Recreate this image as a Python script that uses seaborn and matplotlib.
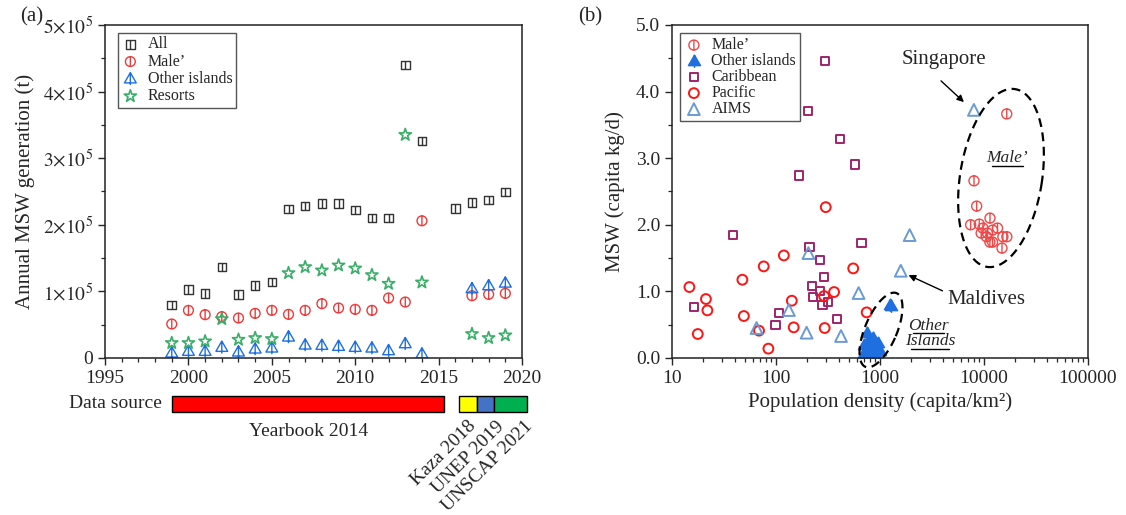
"""Maldives MSW: (a) annual generation by sector, (b) per-capita MSW vs population density."""
import numpy as np
import matplotlib
matplotlib.use("Agg")
import matplotlib.pyplot as plt
from matplotlib.path import Path
from matplotlib.ticker import FuncFormatter, MultipleLocator, LogLocator, NullFormatter
import seaborn as sns

# ── (a) annual MSW generation (t) ───────────────────────────
years_all = [1999, 2000, 2001, 2002, 2003, 2004, 2005, 2006, 2007, 2008, 2009,
             2010, 2011, 2012, 2013, 2014, 2016, 2017, 2018, 2019]
msw_all = [79500, 102500, 96500, 136500, 95500, 109000, 114000, 224000, 228000, 232000,
           232000, 222500, 210500, 210500, 440000, 325500, 224500, 233500, 237500, 249500]

years_sub = [1999, 2000, 2001, 2002, 2003, 2004, 2005, 2006, 2007, 2008, 2009,
             2010, 2011, 2012, 2013, 2014, 2017, 2018, 2019]
msw_male = [51000, 71500, 65000, 62000, 60000, 67000, 71500, 65500, 71500, 81500, 75000,
            73000, 71500, 90000, 84000, 206000, 93500, 95500, 97000]
msw_other = [7500, 10000, 10000, 16000, 9000, 13500, 15000, 31500, 19500, 19000, 17500,
             16000, 15000, 11000, 21500, 6000, 104000, 108500, 112500]
msw_resorts = [22500, 22500, 25000, 58500, 27500, 30000, 28500, 127500, 136500, 131500, 139000,
               134500, 124500, 111500, 335000, 113500, 36000, 30000, 34000]

# data source timeline
src_labels = ["Yearbook 2014", "Kaza 2018", "UNEP 2019", "UNSCAP 2021"]
src_start = [1999.0, 2016.2, 2017.3, 2018.3]
src_end = [2015.3, 2017.3, 2018.3, 2020.3]
src_colors = ["#ff0000", "#ffff00", "#4472c4", "#00b050"]

# ── (b) MSW (capita kg/d) vs population density ─────────────
male_x = [8020, 8510, 16560, 7450, 9010, 11430, 9770, 9400, 10800, 12100, 13500,
          11400, 12100, 15200, 16600, 14900, 10600]
male_y = [2.66, 2.28, 3.665, 2.0, 2.01, 2.10, 1.95, 1.875, 1.875, 1.92, 1.95,
          1.74, 1.74, 1.82, 1.82, 1.65, 1.82]
other_x = [745, 700, 730, 760, 800, 830, 870, 900, 950, 990, 680, 780, 850, 920,
           1260, 1290, 720, 880]
other_y = [0.38, 0.20, 0.12, 0.25, 0.15, 0.08, 0.20, 0.12, 0.22, 0.10, 0.05, 0.05,
           0.30, 0.05, 0.80, 0.78, 0.02, 0.02]
carib_x = [16.2, 38.9, 99, 107, 166, 205, 210, 221, 228, 263, 264, 280, 292, 299,
           314, 389, 412, 581, 665]
carib_y = [0.765, 1.85, 0.5, 0.675, 2.74, 3.71, 1.665, 1.085, 0.91, 1.475, 1.0, 0.795,
           1.21, 4.46, 0.835, 0.585, 3.285, 2.905, 1.725]
pac_x = [14.7, 17.7, 21.2, 21.9, 47.5, 49.1, 68.7, 76.2, 84.5, 119, 142, 148, 290,
         294, 301, 362, 553, 745]
pac_y = [1.065, 0.36, 0.885, 0.715, 1.175, 0.63, 0.41, 1.375, 0.14, 1.54, 0.86, 0.46,
         0.93, 0.45, 2.265, 0.99, 1.345, 0.685]
aims_x = [65, 133, 205, 197, 422, 623, 1585, 1930, 8000]
aims_y = [0.45, 0.72, 1.575, 0.38, 0.33, 0.975, 1.31, 1.845, 3.725]

sns.set_style("ticks")
plt.rcParams["font.family"] = ["Liberation Serif", "DejaVu Serif"]
plt.rcParams["mathtext.fontset"] = "stix"
plt.rcParams["axes.edgecolor"] = "#222222"
plt.rcParams["axes.linewidth"] = 1.1


def stem_marker(base, y0=-1.0, y1=1.0):
    stem = Path([(0, y0), (0, y1)], [Path.MOVETO, Path.LINETO])
    return Path.make_compound_path(base, stem)


SQ = stem_marker(Path([(-1, -1), (1, -1), (1, 1), (-1, 1), (-1, -1)],
                      [Path.MOVETO, Path.LINETO, Path.LINETO, Path.LINETO, Path.CLOSEPOLY]))
CIR = stem_marker(Path.unit_circle())
TRI_PATH = Path([(0, 1), (-0.95, -0.65), (0.95, -0.65), (0, 1)],
                [Path.MOVETO, Path.LINETO, Path.LINETO, Path.CLOSEPOLY])
TRI = stem_marker(TRI_PATH, -1.0, 1.0)


def open_pts(ax, x, y, marker, color, size, label, lw=1.0):
    sns.scatterplot(x=x, y=y, ax=ax, marker=marker, s=size, color=color,
                    facecolors="none", edgecolor=color, linewidth=lw, label=label)


def style_ticks(ax):
    ax.tick_params(which="major", direction="out", length=5, width=1.0,
                   labelsize=14, top=False, right=False)
    ax.tick_params(which="minor", direction="out", length=3, width=0.9,
                   top=False, right=False)
    for s in ax.spines.values():
        s.set_visible(True)


fig = plt.figure(figsize=(11.26, 5.15), dpi=100)
ax1 = fig.add_axes([0.0933, 0.3049, 0.3703, 0.6466])
ax2 = fig.add_axes([0.5968, 0.3049, 0.3694, 0.6466])
ax3 = fig.add_axes([0.0933, 0.2000, 0.3703, 0.0311])

# ── (a) ─────────────────────────────────────────────────────
open_pts(ax1, years_all, msw_all, SQ, "#333333", 38, "All")
open_pts(ax1, years_sub, msw_male, CIR, "#ee3a3a", 50, "Male’")
open_pts(ax1, years_sub, msw_other, TRI, "#1f6fe0", 80, "Other islands")
open_pts(ax1, years_sub, msw_resorts, "*", "#3aae68", 85, "Resorts", lw=1.2)

ax1.set_xlim(1995, 2020)
ax1.set_ylim(0, 5e5)
ax1.xaxis.set_major_locator(MultipleLocator(5))
ax1.xaxis.set_minor_locator(MultipleLocator(1))
ax1.yaxis.set_major_locator(MultipleLocator(1e5))
ax1.yaxis.set_minor_locator(MultipleLocator(0.5e5))
ax1.yaxis.set_major_formatter(FuncFormatter(
    lambda v, p: "0" if v == 0 else r"$%d{\times}10^{5}$" % round(v / 1e5)))
ax1.set_ylabel("Annual MSW generation (t)", fontsize=15, labelpad=6)
ax1.set_xlabel("")
style_ticks(ax1)
ax1.legend(loc="upper left", bbox_to_anchor=(0.03, 0.975), fontsize=11.5, frameon=True,
           fancybox=False, edgecolor="#555555", framealpha=1, borderpad=0.2,
           handletextpad=0.5, labelspacing=0.08, handlelength=1.2, borderaxespad=0)
fig.text(0.018, 0.985, "(a)", fontsize=15, va="top", ha="left")

# data source bar
sns.despine(ax=ax3, left=True, bottom=True)
ax3.barh(y=[0.5] * 4, width=np.array(src_end) - np.array(src_start), left=src_start,
         height=1.0, color=src_colors, edgecolor="black", linewidth=1.0, clip_on=False)
ax3.set_xlim(1995, 2020)
ax3.set_ylim(0, 1)
ax3.set_xticks([])
ax3.set_yticks([])
ax3.patch.set_visible(False)
ax3.text(1998.4, 0.5, "Data source", fontsize=14, ha="right", va="center")
ax3.text(2007.2, -1.2, src_labels[0], fontsize=14, ha="center", va="center")
for lab, xe in zip(src_labels[1:], [2016.7, 2018.4, 2020.1]):
    ax3.text(xe, -0.35, lab, fontsize=14, rotation=45, rotation_mode="anchor",
             ha="right", va="top", clip_on=False)

# ── (b) ─────────────────────────────────────────────────────
open_pts(ax2, male_x, male_y, CIR, "#f04848", 52, "Male’")
sns.scatterplot(x=other_x, y=other_y, ax=ax2, marker=TRI, s=85, color="#1f6fe0",
                edgecolor="#1f6fe0", linewidth=1.0, label="Other islands")
open_pts(ax2, carib_x, carib_y, "s", "#a0246c", 34, "Caribbean", lw=1.4)
open_pts(ax2, pac_x, pac_y, "o", "#ff1414", 50, "Pacific", lw=1.4)
open_pts(ax2, aims_x, aims_y, "^", "#6a9bd2", 72, "AIMS", lw=1.4)

ax2.set_xscale("log")
ax2.set_xlim(10, 1e5)
ax2.set_ylim(0, 5)
ax2.xaxis.set_major_locator(LogLocator(base=10, numticks=10))
ax2.xaxis.set_minor_locator(LogLocator(base=10, subs=np.arange(2, 10), numticks=10))
ax2.xaxis.set_minor_formatter(NullFormatter())
ax2.xaxis.set_major_formatter(FuncFormatter(lambda v, p: "%d" % round(v)))
ax2.yaxis.set_major_locator(MultipleLocator(1))
ax2.yaxis.set_minor_locator(MultipleLocator(0.5))
ax2.yaxis.set_major_formatter(FuncFormatter(lambda v, p: "%.1f" % v))
ax2.set_xlabel("Population density (capita/km²)", fontsize=15, labelpad=4)
ax2.set_ylabel("MSW (capita kg/d)", fontsize=15, labelpad=8)
style_ticks(ax2)
ax2.legend(loc="upper left", bbox_to_anchor=(0.02, 0.975), fontsize=11.5, frameon=True,
           fancybox=False, edgecolor="#555555", framealpha=1, borderpad=0.25,
           handletextpad=0.5, labelspacing=0.0, handlelength=1.2, borderaxespad=0)
fig.text(0.513, 0.985, "(b)", fontsize=15, va="top", ha="left")

H = 515


def px2data(ax, px, py):
    return ax.transData.inverted().transform((px, H - py))


def dashed_ellipse(ax, cx, cy, a, b, ang):
    t = np.linspace(0, 2 * np.pi, 200)
    th = np.deg2rad(ang)
    ex = a * np.cos(t)
    ey = b * np.sin(t)
    dx = cx + ex * np.cos(th) - ey * np.sin(th)
    dy = (H - cy) + ex * np.sin(th) + ey * np.cos(th)
    pts = ax.transData.inverted().transform(np.column_stack([dx, dy]))
    ax.plot(pts[:, 0], pts[:, 1], color="black", ls=(0, (4, 2.5)), lw=1.6, clip_on=False)


dashed_ellipse(ax2, 1001, 178, 41, 90, -9)
dashed_ellipse(ax2, 881, 330, 16, 40, -23)

# annotations
ax2.text(*px2data(ax2, 944, 60), "Singapore", fontsize=15, ha="center", va="center")
ax2.annotate("", xy=px2data(ax2, 966, 104), xytext=px2data(ax2, 939, 79),
             arrowprops=dict(arrowstyle="-|>", color="black", lw=1.0, mutation_scale=10))
ax2.text(*px2data(ax2, 986, 300), "Maldives", fontsize=15, ha="center", va="center")
ax2.annotate("", xy=px2data(ax2, 906, 274), xytext=px2data(ax2, 945, 292),
             arrowprops=dict(arrowstyle="-|>", color="black", lw=1.0, mutation_scale=10))

ax2.text(*px2data(ax2, 1007, 158), "Male’", fontsize=12.5, style="italic",
         ha="center", va="center")
ax2.text(*px2data(ax2, 928, 326), "Other", fontsize=12.5, style="italic",
         ha="center", va="center")
ax2.text(*px2data(ax2, 930, 341), "Islands", fontsize=12.5, style="italic",
         ha="center", va="center")
for x0, x1, yy in [(992, 1023, 166), (913, 944, 333), (911, 949, 349)]:
    p0 = px2data(ax2, x0, yy)
    p1 = px2data(ax2, x1, yy)
    ax2.plot([p0[0], p1[0]], [p0[1], p1[1]], color="black", lw=1.0)

fig.savefig("out.png", dpi=100)
